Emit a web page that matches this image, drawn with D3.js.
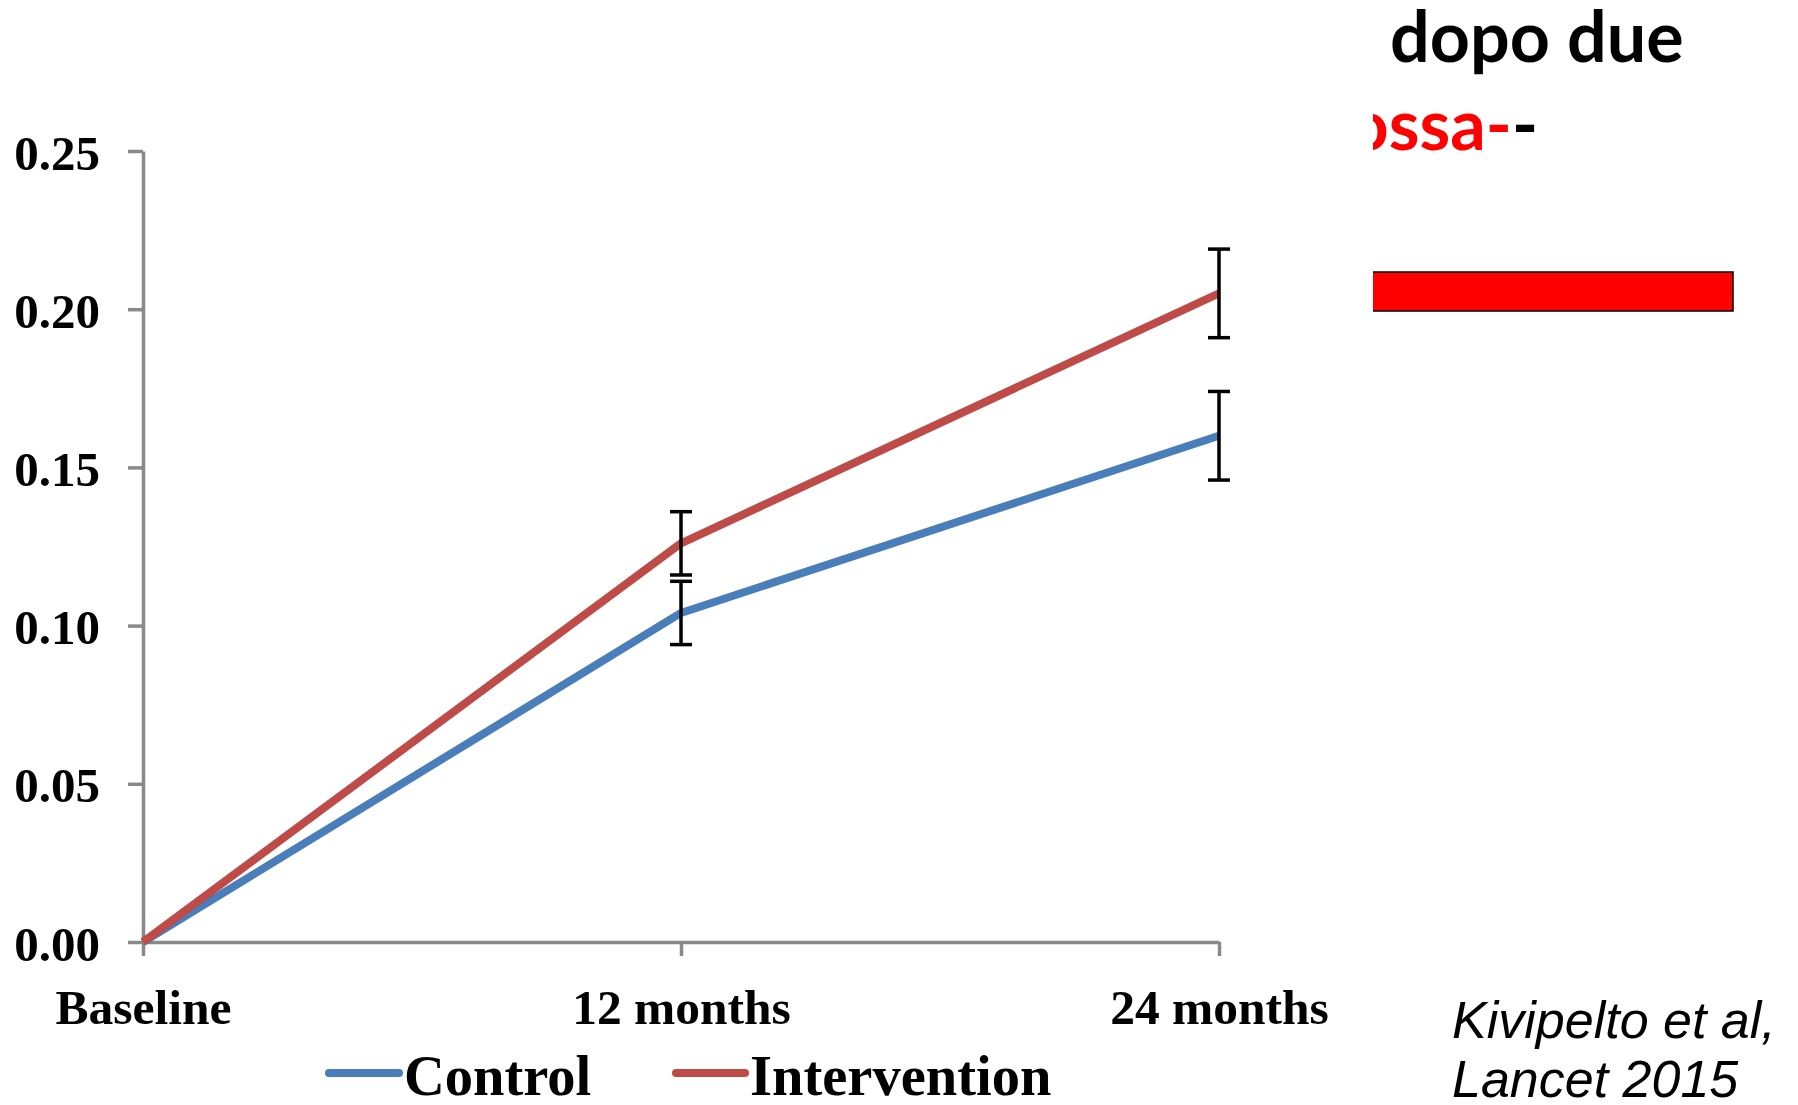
<!DOCTYPE html>
<html>
<head>
<meta charset="utf-8">
<script src="https://cdn.jsdelivr.net/npm/d3@7"></script>
<style>
  html, body { margin: 0; padding: 0; background: #ffffff; }
  svg { display: block; }
</style>
</head>
<body>
<svg id="chart" width="1798" height="1105"></svg>
<script>
// Time points and group means (change from baseline) with error bar half-widths
const timepoints = ["Baseline", "12 months", "24 months"];
const controlValues = [0.000, 0.104, 0.160];
const controlErrors = [0.000, 0.010, 0.014];
const interventionValues = [0.000, 0.126, 0.205];
const interventionErrors = [0.000, 0.010, 0.014];
const yTickValues = [0.00, 0.05, 0.10, 0.15, 0.20, 0.25];
const seriesNames = ["Control", "Intervention"];
const seriesColors = ["#4a7ebb", "#be4b48"];

const svg = d3.select("#chart");
const axisColor = "#898989";
const serif = "'Liberation Serif', 'Times New Roman', serif";

const x = d3.scalePoint().domain(timepoints).range([143, 1219]);
const y = d3.scaleLinear().domain([0, 0.25]).range([942, 151]);

// Y axis
const yAxis = svg.append("g")
  .attr("transform", `translate(${x.range()[0]},0)`)
  .call(d3.axisLeft(y).tickValues(yTickValues).tickFormat(d3.format(".2f"))
    .tickSize(15).tickSizeOuter(0).tickPadding(28));
yAxis.select(".domain").attr("stroke", axisColor).attr("stroke-width", 3.5);
yAxis.selectAll(".tick line").attr("stroke", axisColor).attr("stroke-width", 3.5);
yAxis.selectAll(".tick text")
  .attr("fill", "#000").attr("font-family", serif).attr("font-weight", "bold")
  .attr("font-size", 49).attr("dy", "0.37em");

// X axis
const xAxis = svg.append("g")
  .attr("transform", `translate(0,${y(0)})`)
  .call(d3.axisBottom(x).tickSize(14).tickSizeOuter(0));
xAxis.select(".domain").attr("stroke", axisColor).attr("stroke-width", 3.5);
xAxis.selectAll(".tick line").attr("stroke", axisColor).attr("stroke-width", 3.5);
xAxis.selectAll(".tick text")
  .attr("fill", "#000").attr("font-family", serif).attr("font-weight", "bold")
  .attr("font-size", 49.5).attr("y", 82).attr("dy", 0);

// Series lines
const series = [
  { name: seriesNames[0], color: seriesColors[0], values: controlValues, errors: controlErrors },
  { name: seriesNames[1], color: seriesColors[1], values: interventionValues, errors: interventionErrors }
];

const line = d3.line()
  .x((d, i) => x(timepoints[i]))
  .y(d => y(d));

svg.append("g").selectAll("path")
  .data(series)
  .join("path")
  .attr("d", d => line(d.values))
  .attr("fill", "none")
  .attr("stroke", d => d.color)
  .attr("stroke-width", 8)
  .attr("stroke-linejoin", "round");

// Error bars
const errG = svg.append("g").attr("stroke", "#000").attr("stroke-width", 3.5);
const capHalf = 11;
series.forEach(s => {
  s.values.forEach((v, i) => {
    const e = s.errors[i];
    if (!e) return;
    const cx = x(timepoints[i]);
    errG.append("line").attr("x1", cx).attr("x2", cx).attr("y1", y(v + e)).attr("y2", y(v - e));
    errG.append("line").attr("x1", cx - capHalf).attr("x2", cx + capHalf).attr("y1", y(v + e)).attr("y2", y(v + e));
    errG.append("line").attr("x1", cx - capHalf).attr("x2", cx + capHalf).attr("y1", y(v - e)).attr("y2", y(v - e));
  });
});

// Legend
const legendItems = [
  { x0: 329, x1: 399, tx: 404 },
  { x0: 676, x1: 745, tx: 750 }
];
const legend = svg.append("g");
series.forEach((s, i) => {
  const L = legendItems[i];
  legend.append("line")
    .attr("x1", L.x0).attr("x2", L.x1).attr("y1", 1073).attr("y2", 1073)
    .attr("stroke", s.color).attr("stroke-width", 8).attr("stroke-linecap", "round");
  legend.append("text")
    .attr("x", L.tx).attr("y", 1095)
    .attr("font-family", serif).attr("font-weight", "bold").attr("font-size", 56.5)
    .attr("fill", "#000").text(s.name);
});

// Slide text on the right, partly hidden behind the chart panel
const defs = svg.append("defs");
defs.append("clipPath").attr("id", "slideClip")
  .append("rect").attr("x", 1373).attr("y", 0).attr("width", 425).attr("height", 400);

const slide = svg.append("g").attr("clip-path", "url(#slideClip)");
const sans = "Lato, 'Open Sans', sans-serif";
slide.append("text")
  .attr("x", 1390).attr("y", 62)
  .attr("font-family", sans).attr("font-weight", "bold").attr("font-size", 70)
  .attr("fill", "#000").text("dopo due");
const t2 = slide.append("text")
  .attr("x", 1538).attr("y", 150).attr("text-anchor", "end")
  .attr("font-family", sans).attr("font-weight", "bold").attr("font-size", 70);
t2.append("tspan").attr("fill", "#ff0000").text("ossa-");
t2.append("tspan").attr("fill", "#000").text("-");
slide.append("rect")
  .attr("x", 1360).attr("y", 272).attr("width", 373).attr("height", 39)
  .attr("fill", "#ff0000").attr("stroke", "#000").attr("stroke-width", 1.5);

// Citation
const cite = svg.append("text")
  .attr("font-family", "'Liberation Sans', Arial, sans-serif")
  .attr("font-style", "italic").attr("font-size", 52).attr("fill", "#000");
cite.append("tspan").attr("x", 1452).attr("y", 1038).text("Kivipelto et al,");
cite.append("tspan").attr("x", 1452).attr("y", 1097).text("Lancet 2015");
</script>
</body>
</html>
